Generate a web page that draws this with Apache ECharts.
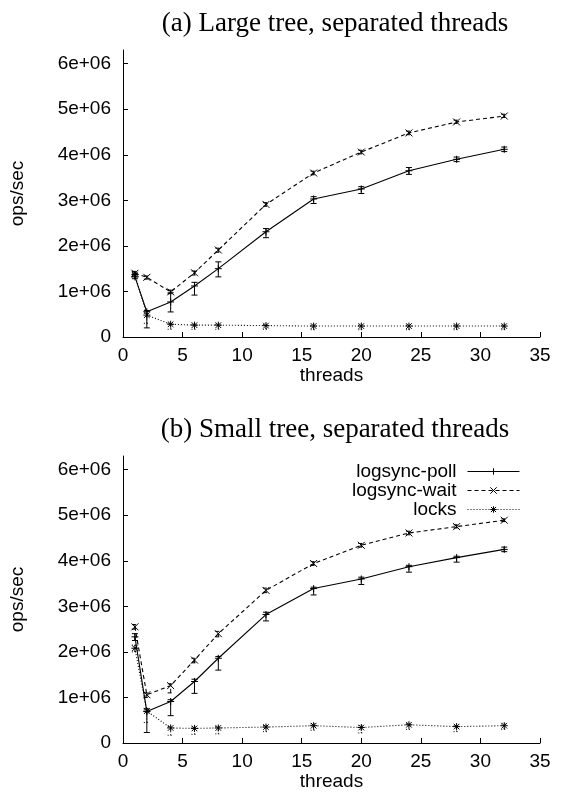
<!DOCTYPE html>
<html>
<head>
<meta charset="utf-8">
<script src="https://cdn.jsdelivr.net/npm/echarts@6/dist/echarts.min.js"></script>
<style>
html,body{margin:0;padding:0;background:#fff;}
#chart{width:561px;height:806px;}
</style>
</head>
<body>
<div id="chart"></div>
<script>
// Values in units of 1e6 ops/sec
const threads = [1, 2, 4, 6, 8, 12, 16, 20, 24, 28, 32];
const seriesNames = ['logsync-poll', 'logsync-wait', 'locks'];
const yTicks = [0, 1, 2, 3, 4, 5, 6];
const xTicks = [0, 5, 10, 15, 20, 25, 30, 35];
const titles = ['(a) Large tree, separated threads', '(b) Small tree, separated threads'];

// (a) Large tree
const pollA   = [1.32, 0.555, 0.77, 1.12, 1.50, 2.31, 3.03, 3.25, 3.65, 3.90, 4.12];
const pollALo = [1.28, 0.20, 0.55, 0.92, 1.32, 2.18, 2.93, 3.15, 3.57, 3.85, 4.07];
const pollAHi = [1.40, 0.58, 0.97, 1.20, 1.65, 2.38, 3.08, 3.30, 3.72, 3.95, 4.17];
const waitA   = [1.40, 1.31, 0.99, 1.41, 1.91, 2.91, 3.60, 4.06, 4.48, 4.72, 4.85];
const waitALo = [1.36, 1.27, 0.95, 1.36, 1.86, 2.87, 3.56, 4.02, 4.44, 4.69, 4.82];
const waitAHi = [1.44, 1.34, 1.03, 1.45, 1.95, 2.95, 3.64, 4.10, 4.52, 4.76, 4.89];
const locksA   = [1.37, 0.48, 0.28, 0.26, 0.26, 0.25, 0.24, 0.24, 0.24, 0.24, 0.24];
const locksALo = [1.33, 0.30, 0.17, 0.17, 0.17, 0.17, 0.16, 0.16, 0.16, 0.16, 0.16];
const locksAHi = [1.41, 0.52, 0.30, 0.28, 0.28, 0.27, 0.26, 0.26, 0.26, 0.26, 0.26];

// (b) Small tree
const pollB   = [2.33, 0.69, 0.91, 1.35, 1.86, 2.82, 3.39, 3.60, 3.87, 4.07, 4.25];
const pollBLo = [2.25, 0.23, 0.60, 1.09, 1.60, 2.68, 3.25, 3.48, 3.75, 3.97, 4.20];
const pollBHi = [2.40, 0.75, 0.95, 1.40, 1.90, 2.87, 3.42, 3.64, 3.90, 4.10, 4.30];
const waitB   = [2.55, 1.06, 1.26, 1.82, 2.40, 3.35, 3.94, 4.34, 4.61, 4.75, 4.89];
const waitBLo = [2.50, 1.00, 1.10, 1.76, 2.33, 3.30, 3.90, 4.30, 4.57, 4.72, 4.86];
const waitBHi = [2.60, 1.10, 1.30, 1.86, 2.45, 3.40, 3.98, 4.38, 4.65, 4.79, 4.92];
const locksB   = [2.08, 0.70, 0.33, 0.32, 0.33, 0.35, 0.38, 0.34, 0.40, 0.36, 0.38];
const locksBLo = [2.00, 0.45, 0.17, 0.19, 0.20, 0.25, 0.28, 0.22, 0.30, 0.25, 0.30];
const locksBHi = [2.15, 0.75, 0.35, 0.35, 0.36, 0.38, 0.42, 0.38, 0.42, 0.38, 0.42];

const SANS = 'Liberation Sans';
const SERIF = 'Liberation Serif';
const symPlus = 'path://M5,0L5,10M0,5L10,5';
const symX = 'path://M0,0L10,10M10,0L0,10';
const symStar = 'path://M5,0L5,10M0,5L10,5M1,1L9,9M9,1L1,9';
const styles = [
  {sym: symPlus, dash: 'solid', dashArr: null},
  {sym: symX, dash: [4, 3], dashArr: [4, 3]},
  {sym: symStar, dash: [1, 2], dashArr: [1, 2]}
];

function zip(a) { return threads.map((t, i) => [t, a[i]]); }
function zip3(lo, hi) { return threads.map((t, i) => [t, lo[i], hi[i]]); }

function lineSeries(k, gi, vals) {
  const s = styles[k];
  return {
    type: 'line', name: seriesNames[k], xAxisIndex: gi, yAxisIndex: gi,
    data: zip(vals), symbol: s.sym, symbolSize: 7, showSymbol: true,
    lineStyle: {color: '#000', width: 1.1, type: s.dash},
    itemStyle: {color: '#000', borderColor: '#000', borderWidth: 1},
    emphasis: {disabled: true}, animation: false, z: 3
  };
}
function errSeries(k, gi, lo, hi) {
  const s = styles[k];
  return {
    type: 'custom', name: seriesNames[k] + ' err', xAxisIndex: gi, yAxisIndex: gi,
    data: zip3(lo, hi), silent: true, animation: false, z: 2,
    renderItem: function (params, api) {
      const p1 = api.coord([api.value(0), api.value(1)]);
      const p2 = api.coord([api.value(0), api.value(2)]);
      const st = {stroke: '#000', lineWidth: 1, lineDash: s.dashArr};
      const c = 3;
      return {type: 'group', children: [
        {type: 'line', shape: {x1: p1[0], y1: p1[1], x2: p2[0], y2: p2[1]}, style: st},
        {type: 'line', shape: {x1: p1[0] - c, y1: p1[1], x2: p1[0] + c, y2: p1[1]}, style: st},
        {type: 'line', shape: {x1: p2[0] - c, y1: p2[1], x2: p2[0] + c, y2: p2[1]}, style: st}
      ]};
    }
  };
}

const grids = [
  {left: 120, top: 50, width: 420, height: 287},
  {left: 120, top: 456, width: 420, height: 287}
];
function xAxis(gi) {
  return {
    type: 'value', gridIndex: gi, min: 0, max: 35, interval: 5,
    name: 'threads', nameLocation: 'middle', nameGap: 29,
    nameTextStyle: {fontFamily: SANS, fontSize: 19, color: '#000'},
    axisLine: {lineStyle: {color: '#000', width: 1}},
    axisTick: {inside: true, length: 5, lineStyle: {color: '#000'}},
    axisLabel: {fontFamily: SANS, fontSize: 19, color: '#000', margin: 9, customValues: xTicks},
    splitLine: {show: false}
  };
}
function yAxis(gi) {
  return {
    type: 'value', gridIndex: gi, min: 0, max: 6.3,
    name: 'ops/sec', nameLocation: 'middle', nameGap: 96, nameRotate: 90,
    nameTextStyle: {fontFamily: SANS, fontSize: 19, color: '#000'},
    axisLine: {show: true, lineStyle: {color: '#000', width: 1}},
    axisTick: {show: true, inside: true, length: 5, lineStyle: {color: '#000'}, customValues: yTicks},
    axisLabel: {fontFamily: SANS, fontSize: 19, color: '#000', margin: 12, customValues: yTicks,
      formatter: v => v === 0 ? '0' : v + 'e+06'},
    splitLine: {show: false}
  };
}

const series = [
  errSeries(0, 0, pollALo, pollAHi), errSeries(1, 0, waitALo, waitAHi), errSeries(2, 0, locksALo, locksAHi),
  lineSeries(0, 0, pollA), lineSeries(1, 0, waitA), lineSeries(2, 0, locksA),
  errSeries(0, 1, pollBLo, pollBHi), errSeries(1, 1, waitBLo, waitBHi), errSeries(2, 1, locksBLo, locksBHi),
  lineSeries(0, 1, pollB), lineSeries(1, 1, waitB), lineSeries(2, 1, locksB)
];

const chart = echarts.init(document.getElementById('chart'), null, {renderer: 'canvas'});
chart.setOption({
  animation: false,
  backgroundColor: '#fff',
  title: [
    {text: titles[0], left: 330, top: 5, textAlign: 'center',
     textStyle: {fontFamily: SERIF, fontSize: 27, fontWeight: 'normal', color: '#000'}},
    {text: titles[1], left: 330, top: 411, textAlign: 'center',
     textStyle: {fontFamily: SERIF, fontSize: 27, fontWeight: 'normal', color: '#000'}}
  ],
  legend: {
    data: seriesNames, orient: 'vertical', align: 'right', right: 36, top: 457,
    itemWidth: 52, itemHeight: 8, itemGap: 0,
    lineStyle: {width: 1},
    itemStyle: {borderWidth: 1},
    textStyle: {fontFamily: SANS, fontSize: 19, color: '#000', lineHeight: 19, padding: [0, 6, 0, 0]},
    selectedMode: false
  },
  grid: grids,
  xAxis: [xAxis(0), xAxis(1)],
  yAxis: [yAxis(0), yAxis(1)],
  series: series
});
</script>
</body>
</html>
